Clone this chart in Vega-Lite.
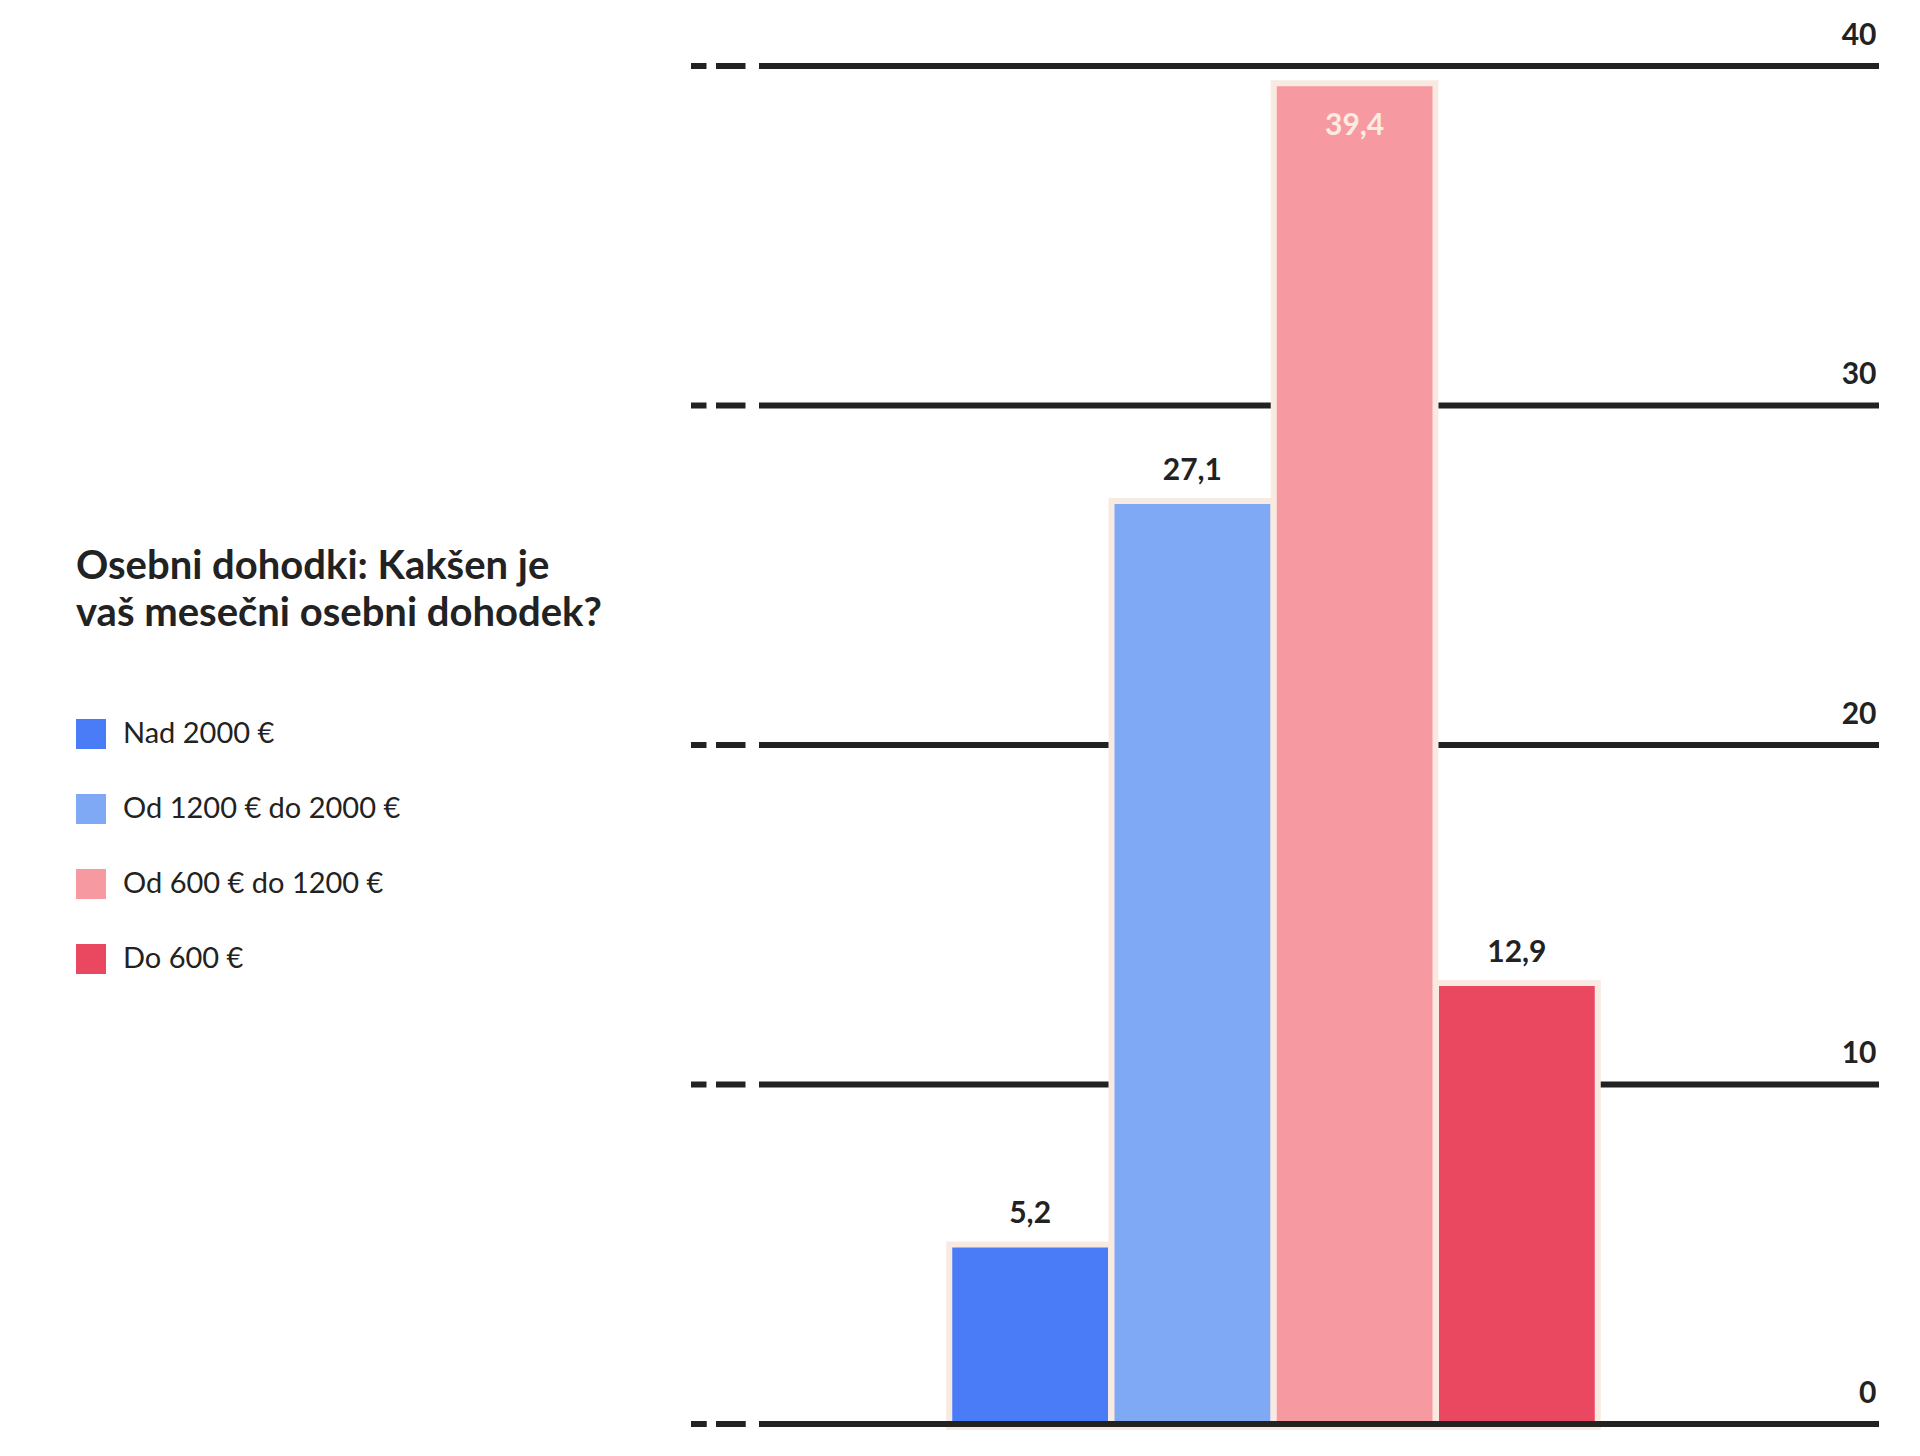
{
  "$schema": "https://vega.github.io/schema/vega-lite/v6.json",
  "autosize": "none",
  "padding": {"left": 691, "top": 66, "right": 41, "bottom": 32},
  "width": 1188,
  "height": 1358,
  "background": "white",
  "config": {
    "view": {"stroke": null},
    "font": "Lato",
    "locale": {
      "number": {"decimal": ",", "thousands": ".", "grouping": [3], "currency": ["", " €"]}
    }
  },
  "datasets": {
    "dohodki": [
      {"kat": "Nad 2000 €", "delez": 5.2},
      {"kat": "Od 1200 € do 2000 €", "delez": 27.1},
      {"kat": "Od 600 € do 1200 €", "delez": 39.4},
      {"kat": "Do 600 €", "delez": 12.9}
    ],
    "mreza": [
      {"v": 0}, {"v": 10}, {"v": 20}, {"v": 30}, {"v": 40}
    ]
  },
  "data": {"name": "dohodki"},
  "encoding": {
    "x": {
      "field": "kat",
      "type": "nominal",
      "sort": null,
      "axis": null,
      "scale": {"paddingInner": 0, "paddingOuter": 0, "range": [258, 907]}
    },
    "y": {
      "field": "delez",
      "type": "quantitative",
      "scale": {"domain": [0, 40], "nice": false},
      "axis": {
        "orient": "right",
        "title": null,
        "values": [0, 10, 20, 30, 40],
        "domain": false,
        "ticks": false,
        "tickSize": 0,
        "grid": false,
        "labelFont": "Lato",
        "labelFontSize": 30,
        "labelFontWeight": "bold",
        "labelColor": "#222222",
        "labelAlign": "right",
        "labelBaseline": "alphabetic",
        "labelPadding": -3,
        "labelOffset": -22
      }
    }
  },
  "layer": [
    {
      "data": {"name": "mreza"},
      "mark": {
        "type": "rule",
        "color": "#222222",
        "strokeWidth": 6,
        "strokeDash": [1120, 13.5, 29.5, 9.5, 15.5, 200]
      },
      "encoding": {
        "x": null,
        "y": {"field": "v", "type": "quantitative"}
      }
    },
    {
      "mark": {
        "type": "bar",
        "width": {"band": 0.96},
        "fill": "#f9eae1",
        "stroke": "#f9eae1",
        "strokeWidth": 12
      }
    },
    {
      "mark": {"type": "bar", "width": {"band": 0.96}},
      "encoding": {
        "color": {
          "field": "kat",
          "type": "nominal",
          "sort": null,
          "scale": {
            "domain": ["Nad 2000 €", "Od 1200 € do 2000 €", "Od 600 € do 1200 €", "Do 600 €"],
            "range": ["#4a7cf7", "#7fa9f5", "#f799a0", "#e94860"]
          },
          "legend": {
            "title": ["Osebni dohodki: Kakšen je", "vaš mesečni osebni dohodek?"],
            "orient": "none",
            "legendX": -615,
            "legendY": 481,
            "titleFont": "Lato",
            "titleFontSize": 40,
            "titleFontWeight": "bold",
            "titleColor": "#222222",
            "titleLineHeight": 47,
            "titleBaseline": "top",
            "titlePadding": 85,
            "titleLimit": 1000,
            "symbolType": "square",
            "symbolSize": 900,
            "symbolStrokeWidth": 0,
            "symbolOpacity": 1,
            "labelFont": "Lato",
            "labelFontSize": 29,
            "labelColor": "#222222",
            "labelOffset": 17,
            "labelLimit": 1000,
            "rowPadding": 45
          }
        }
      }
    },
    {
      "transform": [{"filter": "datum.delez < 35"}],
      "mark": {
        "type": "text",
        "font": "Lato",
        "fontSize": 30,
        "fontWeight": "bold",
        "color": "#222222",
        "baseline": "alphabetic",
        "dy": -24
      },
      "encoding": {
        "text": {"field": "delez", "type": "quantitative", "format": ".1f"}
      }
    },
    {
      "transform": [{"filter": "datum.delez >= 35"}],
      "mark": {
        "type": "text",
        "font": "Lato",
        "fontSize": 30,
        "fontWeight": "bold",
        "color": "#fbece2",
        "baseline": "alphabetic",
        "dy": 49
      },
      "encoding": {
        "text": {"field": "delez", "type": "quantitative", "format": ".1f"}
      }
    },
    {
      "data": {"name": "mreza"},
      "transform": [{"filter": "datum.v == 0"}],
      "mark": {
        "type": "rule",
        "color": "#222222",
        "strokeWidth": 6,
        "strokeDash": [1120, 13.5, 29.5, 9.5, 15.5, 200]
      },
      "encoding": {
        "x": null,
        "y": {"field": "v", "type": "quantitative"}
      }
    }
  ]
}
